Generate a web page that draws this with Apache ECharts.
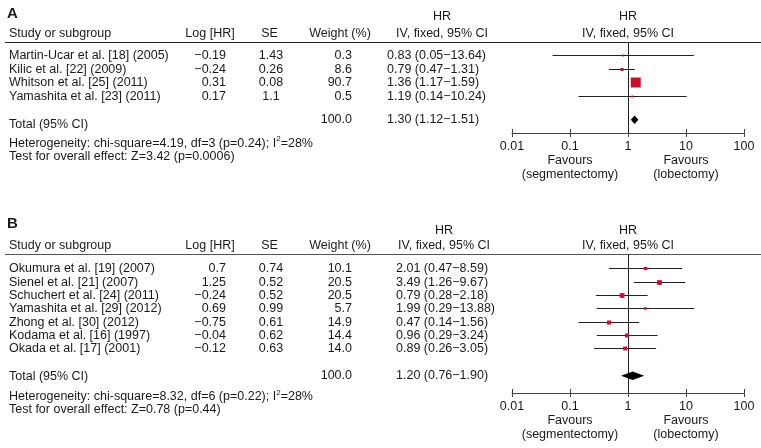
<!DOCTYPE html>
<html>
<head>
<meta charset="utf-8">
<script src="https://cdn.jsdelivr.net/npm/echarts@6/dist/echarts.min.js"></script>
<style>
  html, body { margin: 0; padding: 0; background: #fff; }
  #chart { width: 761px; height: 448px; }
</style>
</head>
<body>
<div id="chart"></div>
<script>
// ---------------- DATA ----------------
const studiesA = ['Martin-Ucar et al. [18] (2005)', 'Kilic et al. [22] (2009)', 'Whitson et al. [25] (2011)', 'Yamashita et al. [23] (2011)'];
const logHrA = [-0.19, -0.24, 0.31, 0.17];
const seA = [1.43, 0.26, 0.08, 1.1];
const weightA = [0.3, 8.6, 90.7, 0.5];
const hrA = [0.83, 0.79, 1.36, 1.19];
const loA = [0.05, 0.47, 1.17, 0.14];
const hiA = [13.64, 1.31, 1.59, 10.24];
const totalA = [1.30, 1.12, 1.51];   // HR, lower, upper
const totalWeightA = 100.0;
const hetA = ['4.19', '3', '0.24', '28'];  // chi-square, df, p, I2
const testA = ['3.42', '0.0006'];          // Z, p

const studiesB = ['Okumura et al. [19] (2007)', 'Sienel et al. [21] (2007)', 'Schuchert et al. [24] (2011)', 'Yamashita et al. [29] (2012)', 'Zhong et al. [30] (2012)', 'Kodama et al. [16] (1997)', 'Okada et al. [17] (2001)'];
const logHrB = [0.7, 1.25, -0.24, 0.69, -0.75, -0.04, -0.12];
const seB = [0.74, 0.52, 0.52, 0.99, 0.61, 0.62, 0.63];
const weightB = [10.1, 20.5, 20.5, 5.7, 14.9, 14.4, 14.0];
const hrB = [2.01, 3.49, 0.79, 1.99, 0.47, 0.96, 0.89];
const loB = [0.47, 1.26, 0.28, 0.29, 0.14, 0.29, 0.26];
const hiB = [8.59, 9.67, 2.18, 13.88, 1.56, 3.24, 3.05];
const totalB = [1.20, 0.76, 1.90];
const totalWeightB = 100.0;
const hetB = ['8.32', '6', '0.22', '28'];
const testB = ['0.78', '0.44'];

const axisTicks = [0.01, 0.1, 1, 10, 100];
const favoursLeft = ['Favours', '(segmentectomy)'];
const favoursRight = ['Favours', '(lobectomy)'];
const headers = ['Study or subgroup', 'Log [HR]', 'SE', 'Weight (%)', 'HR', 'IV, fixed, 95% CI'];

// ---------------- STYLE / LAYOUT ----------------
const FONTFAM = '"Liberation Sans", Arial, Helvetica, sans-serif';
const FS = 12.5;
const FONT = FS + 'px ' + FONTFAM;
const TXT = '#1a1a1a';
const RED = '#c8102e';
const LINE = '#222';
const AXIS = '#444';
const MINUS = '\u2212';

function fmtNum(v) { return String(v).replace('-', MINUS); }
function fmtHr(h, l, u) { return h.toFixed(2) + ' (' + l.toFixed(2) + MINUS + u.toFixed(2) + ')'; }

const panels = [
  { label: 'A', labelY: 14, studies: studiesA, logHr: logHrA, se: seA, weight: weightA, hr: hrA, lo: loA, hi: hiA,
    total: totalA, totalWeight: totalWeightA, het: hetA, test: testA,
    gridTop: 42, axisY: 133, yMin: -1.03, yMax: 5.72, totalRow: 4.74, totalLabelRow: 5.08,
    head1Y: 17, head2Y: 34, hetY: 142.5, testY: 157, hrTextX: 387, hrHeadX: 442, headLineColor: '#222' },
  { label: 'B', labelY: 224, studies: studiesB, logHr: logHrB, se: seB, weight: weightB, hr: hrB, lo: loB, hi: hiB,
    total: totalB, totalWeight: totalWeightB, het: hetB, test: testB,
    gridTop: 254, axisY: 393, yMin: -1.125, yMax: 9.325, totalRow: 8.03, totalLabelRow: 8.1,
    head1Y: 230.5, head2Y: 245.5, hetY: 396, testY: 410, hrTextX: 396, hrHeadX: 444, headLineColor: '#555' }
];

const PLOT_LEFT = 512, PLOT_RIGHT = 744, W = 761;
const COL = { study: 9, logHr: 226, se: 271, weight: 352 };
const HEADX = { study: 9, logHr: 210, se: 269.5, weight: 340 };
const MAXW = 90.7, MAXSIDE = 10, MINSIDE = 2;

const chart = echarts.init(document.getElementById('chart'), null, { renderer: 'canvas' });

const grids = [], xAxes = [], yAxes = [], series = [], graphics = [];

function crisp(v) { return Math.round(v - 0.5) + 0.5; }

panels.forEach((p, pi) => {
  grids.push({ left: PLOT_LEFT, right: W - PLOT_RIGHT, top: p.gridTop, height: p.axisY - p.gridTop, containLabel: false });
  const axisBase = {
    gridIndex: pi, type: 'log', logBase: 10, min: axisTicks[0], max: axisTicks[axisTicks.length - 1],
    position: 'bottom', splitLine: { show: false }
  };
  xAxes.push(Object.assign({}, axisBase, {
    axisLine: { show: true, onZero: false, lineStyle: { color: AXIS, width: 1 } },
    axisTick: { show: true, length: 4, lineStyle: { color: AXIS, width: 1 } },
    axisLabel: { show: true, margin: 7, color: TXT, fontSize: FS, fontFamily: FONTFAM,
      formatter: v => String(parseFloat(Number(v).toPrecision(2))) }
  }));
  xAxes.push(Object.assign({}, axisBase, {
    axisLine: { show: false, onZero: false },
    axisTick: { show: true, inside: true, length: 4, lineStyle: { color: AXIS, width: 1 } },
    axisLabel: { show: false }
  }));
  yAxes.push({ gridIndex: pi, type: 'value', inverse: true, min: p.yMin, max: p.yMax, show: false });

  const xi = pi * 2, yi = pi;

  // study marks: value = [hr, row, lo, hi, weight]
  const markData = p.hr.map((h, i) => [h, i, p.lo[i], p.hi[i], p.weight[i]]);
  series.push({
    type: 'custom', xAxisIndex: xi, yAxisIndex: yi, clip: false, silent: true, z: 5,
    data: markData, encode: { x: 0, y: 1 },
    renderItem: function (params, api) {
      const ptC = api.coord([api.value(0), api.value(1)]);
      const ptL = api.coord([api.value(2), api.value(1)]);
      const ptH = api.coord([api.value(3), api.value(1)]);
      const y = crisp(ptC[1]);
      const side = Math.max(MINSIDE, MAXSIDE * Math.sqrt(api.value(4) / MAXW));
      return {
        type: 'group',
        children: [
          { type: 'line', shape: { x1: ptL[0], y1: y, x2: ptH[0], y2: y }, style: { stroke: LINE, lineWidth: 1 } },
          { type: 'rect', shape: { x: ptC[0] - side / 2, y: y - side / 2, width: side, height: side }, style: { fill: RED } }
        ]
      };
    },
    markLine: {
      silent: true, symbol: 'none', label: { show: false }, animation: false,
      data: [ { xAxis: 1, lineStyle: { color: LINE, width: 1, type: 'solid' } } ]
    }
  });

  // total diamond + axis base bar
  series.push({
    type: 'custom', xAxisIndex: xi, yAxisIndex: yi, clip: false, silent: true, z: 5,
    data: [[p.total[0], p.totalRow, p.total[1], p.total[2]]], encode: { x: 0, y: 1 },
    renderItem: function (params, api) {
      const c = api.coord([api.value(0), api.value(1)]);
      const l = api.coord([api.value(2), api.value(1)]);
      const h = api.coord([api.value(3), api.value(1)]);
      const a0 = api.coord([axisTicks[0], p.yMax]);
      const a1 = api.coord([axisTicks[axisTicks.length - 1], p.yMax]);
      const ay = Math.round(a0[1]);
      const hh = 4.3;
      return {
        type: 'group',
        children: [
          { type: 'polygon', shape: { points: [[l[0], c[1]], [c[0], c[1] - hh], [h[0], c[1]], [c[0], c[1] + hh]] }, style: { fill: '#000' } },
          { type: 'rect', shape: { x: a0[0], y: ay, width: a1[0] - a0[0], height: 1 }, style: { fill: AXIS } }
        ]
      };
    }
  });

  // table text rows (y from the same axis)
  const textData = p.studies.map((s, i) => [1, i]);
  series.push({
    type: 'custom', xAxisIndex: xi, yAxisIndex: yi, clip: false, silent: true,
    data: textData, encode: { x: 0, y: 1 },
    renderItem: function (params, api) {
      const i = params.dataIndex;
      const y = api.coord([1, api.value(1)])[1];
      const t = (text, x, align) => ({ type: 'text', style: { text: text, x: x, y: y, align: align, verticalAlign: 'middle', fill: TXT, font: FONT } });
      return {
        type: 'group',
        children: [
          t(p.studies[i], COL.study, 'left'),
          t(fmtNum(p.logHr[i]), COL.logHr, 'right'),
          t(String(p.se[i]), COL.se, 'center'),
          t(p.weight[i].toFixed(1), COL.weight, 'right'),
          t(fmtHr(p.hr[i], p.lo[i], p.hi[i]), p.hrTextX, 'left')
        ]
      };
    }
  });

  // total row text
  series.push({
    type: 'custom', xAxisIndex: xi, yAxisIndex: yi, clip: false, silent: true,
    data: [[1, p.totalRow, p.totalLabelRow]], encode: { x: 0, y: 1 },
    renderItem: function (params, api) {
      const y = api.coord([1, api.value(1)])[1];
      const yl = api.coord([1, api.value(2)])[1];
      const t = (text, x, yy, align) => ({ type: 'text', style: { text: text, x: x, y: yy, align: align, verticalAlign: 'middle', fill: TXT, font: FONT } });
      return {
        type: 'group',
        children: [
          t('Total (95% CI)', COL.study, yl, 'left'),
          t(p.totalWeight.toFixed(1), COL.weight, y, 'right'),
          t(fmtHr(p.total[0], p.total[1], p.total[2]), p.hrTextX, y, 'left')
        ]
      };
    }
  });

  // static texts
  const gt = (text, x, y, align, extra) => ({
    type: 'text', silent: true,
    style: Object.assign({ text: text, x: x, y: y, align: align, verticalAlign: 'middle', fill: TXT, font: FONT }, extra || {})
  });
  graphics.push(gt(p.label, 7, p.labelY, 'left', { font: 'bold 15px ' + FONTFAM }));
  graphics.push(gt(headers[0], HEADX.study, p.head2Y, 'left'));
  graphics.push(gt(headers[1], HEADX.logHr, p.head2Y, 'center'));
  graphics.push(gt(headers[2], HEADX.se, p.head2Y, 'center'));
  graphics.push(gt(headers[3], HEADX.weight, p.head2Y, 'center'));
  graphics.push(gt(headers[4], p.hrHeadX, p.head1Y, 'center'));
  graphics.push(gt(headers[5], p.hrHeadX, p.head2Y, 'center'));
  graphics.push({ type: 'line', silent: true, shape: { x1: 5, y1: crisp(p.gridTop), x2: W, y2: crisp(p.gridTop) }, style: { stroke: p.headLineColor, lineWidth: 1 } });
  graphics.push({
    type: 'text', silent: true,
    style: {
      text: '{n|Heterogeneity: chi-square=' + p.het[0] + ', df=' + p.het[1] + ' (p=' + p.het[2] + '); I}{sup|2}{n|=' + p.het[3] + '%}',
      x: COL.study, y: p.hetY, align: 'left', verticalAlign: 'middle', fill: TXT, font: FONT,
      rich: {
        n: { fontSize: FS, fontFamily: FONTFAM, fill: TXT, lineHeight: 15, verticalAlign: 'bottom' },
        sup: { fontSize: 8, fontFamily: FONTFAM, fill: TXT, lineHeight: 8, verticalAlign: 'top' }
      }
    }
  });
  graphics.push(gt('Test for overall effect: Z=' + p.test[0] + ' (p=' + p.test[1] + ')', COL.study, p.testY, 'left'));
});

chart.setOption({
  animation: false,
  backgroundColor: '#fff',
  grid: grids, xAxis: xAxes, yAxis: yAxes, series: series, graphic: graphics
});

// plot header, axis base line and favours labels positioned through the axis scales
const extra = [];
panels.forEach((p, pi) => {
  const xa = { xAxisIndex: pi * 2 };
  const x1 = chart.convertToPixel(xa, 1);
  const xL = chart.convertToPixel(xa, 0.1);
  const xR = chart.convertToPixel(xa, 10);
  const xMin = chart.convertToPixel(xa, axisTicks[0]);
  const xMax = chart.convertToPixel(xa, axisTicks[axisTicks.length - 1]);
  const yAx = Math.round(chart.convertToPixel({ yAxisIndex: pi }, p.yMax));
  const mk = (text, x, y) => ({ type: 'text', silent: true, style: { text: text, x: x, y: y, align: 'center', verticalAlign: 'middle', fill: TXT, font: FONT } });
  extra.push({ type: 'rect', silent: true, z: 100, shape: { x: xMin, y: yAx, width: xMax - xMin, height: 1 }, style: { fill: AXIS } });
  extra.push(mk(headers[4], x1, p.head1Y));
  extra.push(mk(headers[5], x1, p.head2Y));
  const fy1 = p.axisY + 28, fy2 = p.axisY + 41.5;
  extra.push(mk(favoursLeft[0], xL, fy1));
  extra.push(mk(favoursLeft[1], xL, fy2));
  extra.push(mk(favoursRight[0], xR, fy1));
  extra.push(mk(favoursRight[1], xR, fy2));
});
chart.setOption({ graphic: graphics.concat(extra) });
</script>
</body>
</html>
